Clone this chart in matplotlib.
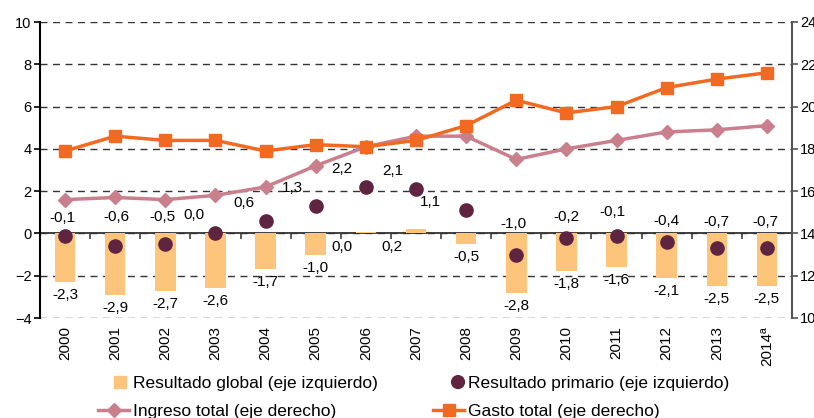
import numpy as np
import matplotlib
matplotlib.use("Agg")
import matplotlib.pyplot as plt
import matplotlib.patches as mpatches
from matplotlib.lines import Line2D
from matplotlib.legend_handler import HandlerPatch

plt.rcParams['font.family'] = ['Liberation Sans', 'DejaVu Sans']

years = ['2000', '2001', '2002', '2003', '2004', '2005', '2006', '2007',
         '2008', '2009', '2010', '2011', '2012', '2013', '2014ª']
global_res = [-2.3, -2.9, -2.7, -2.6, -1.7, -1.0, 0.05, 0.2, -0.5, -2.8, -1.8, -1.6, -2.1, -2.5, -2.5]
global_lbl = ['-2,3', '-2,9', '-2,7', '-2,6', '-1,7', '-1,0', '0,0', '0,2', '-0,5', '-2,8',
              '-1,8', '-1,6', '-2,1', '-2,5', '-2,5']
primario = [-0.1, -0.6, -0.5, 0.0, 0.6, 1.3, 2.2, 2.1, 1.1, -1.0, -0.2, -0.1, -0.4, -0.7, -0.7]
prim_lbl = ['-0,1', '-0,6', '-0,5', '0,0', '0,6', '1,3', '2,2', '2,1', '1,1', '-1,0',
            '-0,2', '-0,1', '-0,4', '-0,7', '-0,7']
ingreso = [15.6, 15.7, 15.6, 15.8, 16.2, 17.2, 18.1, 18.6, 18.6, 17.5, 18.0, 18.4, 18.8, 18.9, 19.1]
gasto = [17.9, 18.6, 18.4, 18.4, 17.9, 18.2, 18.1, 18.4, 19.1, 20.3, 19.7, 20.0, 20.9, 21.3, 21.6]

# label offsets in pixels (dx, dy) for the primary-result labels
prim_off = [(-3, 18), (1, 29), (-3, 27), (-22, 18), (-22, 18), (-23, 18), (-24, 18), (-23, 18),
            (-36, 8), (-3, 31), (0, 21), (-4, 24), (0, 21), (0, 26), (-2, 26)]

c_bar = '#FDC57B'
c_dot = '#5F2440'
c_ing = '#C9808C'
c_gas = '#F26A22'

x = np.arange(len(years))

fig = plt.figure(figsize=(8.14, 4.18), dpi=100)
ax = fig.add_axes([40 / 814, 1 - 318 / 418, 752 / 814, 296 / 418])
ax2 = ax.twinx()

ax.bar(x, global_res, width=0.41, color=c_bar, zorder=2)
ax.plot(x, primario, 'o', color=c_dot, markersize=9.5, zorder=4)

ax2.plot(x, ingreso, '-', color=c_ing, lw=2.5, marker='D', markersize=7.5, zorder=3)
ax2.plot(x, gasto, '-', color=c_gas, lw=2.5, marker='s', markersize=8.5, zorder=3)

ax.set_xlim(-0.5, len(years) - 0.5)
ax.set_ylim(-4, 10)
ax.set_yticks(range(-4, 11, 2))
ax2.set_ylim(10, 24)
ax2.set_yticks(range(10, 25, 2))

ax.grid(axis='y', linestyle=(0, (5, 4)), color='#333333', lw=1, zorder=0)
ax.set_axisbelow(True)

for s in ['top', 'right', 'bottom']:
    ax.spines[s].set_visible(False)
for s in ['top', 'left', 'bottom']:
    ax2.spines[s].set_visible(False)
ax.spines['left'].set_color('black')
ax.spines['left'].set_linewidth(1.5)
ax2.spines['right'].set_color('#555555')
ax2.spines['right'].set_linewidth(1.5)

ax.tick_params(axis='y', direction='out', length=4, width=1.2, labelsize=10.5, pad=2)
ax2.tick_params(axis='y', direction='out', length=4, width=1.2, colors='#555555',
                labelcolor='black', labelsize=10.5, pad=2)

ax.set_xticks(x)
ax.set_xticklabels(years, rotation=90, fontsize=11)
ax.tick_params(axis='x', length=0, pad=6)

# zero line with boundary ticks
zero_ax = ax.secondary_xaxis(4 / 14)
zero_ax.set_xticks(np.arange(len(years) + 1) - 0.5)
zero_ax.set_xticklabels([])
zero_ax.spines['bottom'].set_color('#404040')
zero_ax.spines['bottom'].set_linewidth(1.4)
zero_ax.tick_params(direction='out', length=4, width=1.2, colors='#404040')

for i, v in enumerate(global_res):
    if v >= 0:
        ax.annotate(global_lbl[i], (i, 0), xytext=(-24, -14), textcoords='offset pixels',
                    ha='center', va='center', fontsize=11)
    else:
        ax.annotate(global_lbl[i], (i, v), xytext=(0, -13), textcoords='offset pixels',
                    ha='center', va='center', fontsize=11)

for i, v in enumerate(primario):
    dx, dy = prim_off[i]
    ax.annotate(prim_lbl[i], (i, v), xytext=(dx, dy), textcoords='offset pixels',
                ha='center', va='center', fontsize=11)


def small_square(legend, orig_handle, xdescent, ydescent, width, height, fontsize):
    s = height * 1.0
    return mpatches.Rectangle((width - s - 2, -ydescent + (height - s) / 2), s, s)


def small_dot(legend, orig_handle, xdescent, ydescent, width, height, fontsize):
    s = height * 1.05
    return mpatches.Ellipse((width - s / 2, height / 2 - ydescent), s, s)


h_bar = mpatches.Patch(color=c_bar)
h_dot = mpatches.Circle((0, 0), color=c_dot)
h_ing = Line2D([], [], color=c_ing, lw=2.5, marker='D', markersize=7.5)
h_gas = Line2D([], [], color=c_gas, lw=2.5, marker='s', markersize=8)

fig.legend([h_bar, h_ing, h_dot, h_gas],
           ['Resultado global (eje izquierdo)', 'Ingreso total (eje derecho)',
            'Resultado primario (eje izquierdo)', 'Gasto total (eje derecho)'],
           handler_map={mpatches.Patch: HandlerPatch(patch_func=small_square),
                        mpatches.Circle: HandlerPatch(patch_func=small_dot)},
           ncol=2, loc='upper left', bbox_to_anchor=(98 / 814, 1 - 376 / 418),
           frameon=False, fontsize=12.5, handlelength=1.8, handletextpad=0.2,
           columnspacing=3.2, labelspacing=0.72, borderpad=0, borderaxespad=0)

fig.savefig('out.png', dpi=100)
